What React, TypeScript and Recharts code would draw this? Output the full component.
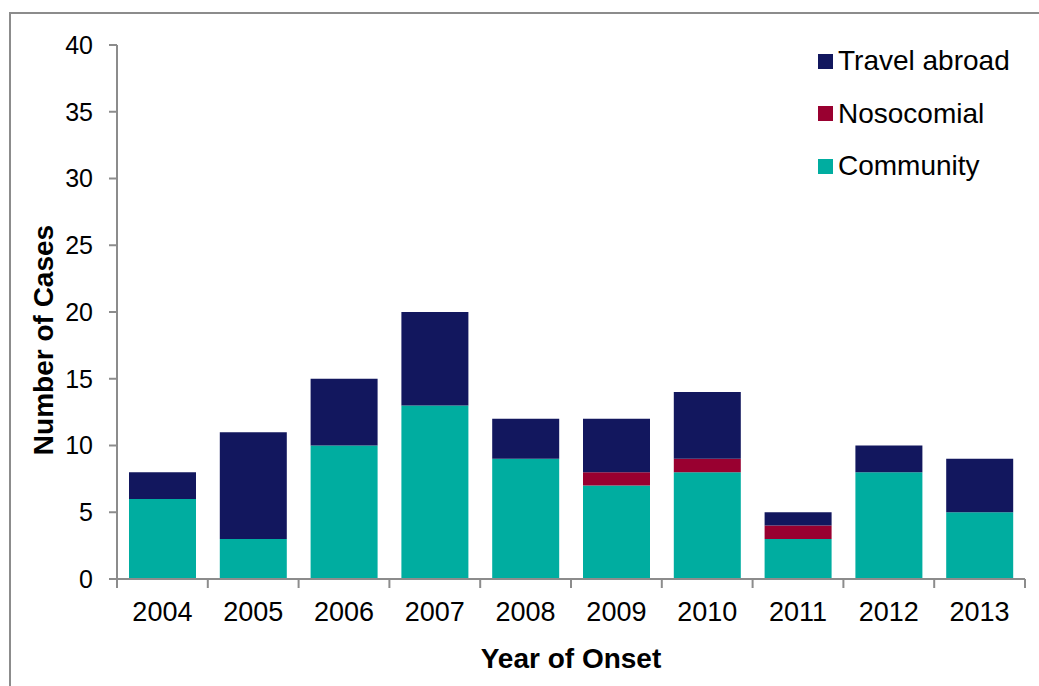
import * as React from 'react'
import {
  BarChart,
  Bar,
  XAxis,
  YAxis,
} from 'recharts'

const YEARS = ['2004', '2005', '2006', '2007', '2008', '2009', '2010', '2011', '2012', '2013']
const COMMUNITY = [6, 3, 10, 13, 9, 7, 8, 3, 8, 5]
const NOSOCOMIAL = [0, 0, 0, 0, 0, 1, 1, 1, 0, 0]
const TRAVEL_ABROAD = [2, 8, 5, 7, 3, 4, 5, 1, 2, 4]
const Y_TICKS = [0, 5, 10, 15, 20, 25, 30, 35, 40]

const COLORS = {
  community: '#00ADA0',
  nosocomial: '#990030',
  travel: '#12175E',
}

const AXIS_GREY = '#8C8C8C'
const FONT = '"Liberation Sans", Arial, sans-serif'

const data = YEARS.map((year, i) => ({
  year,
  community: COMMUNITY[i],
  nosocomial: NOSOCOMIAL[i],
  travel: TRAVEL_ABROAD[i],
}))

const legendItems = [
  { label: 'Travel abroad', color: COLORS.travel },
  { label: 'Nosocomial', color: COLORS.nosocomial },
  { label: 'Community', color: COLORS.community },
]

function LegendBox() {
  return (
    <div
      style={{
        position: 'absolute',
        left: 818,
        top: 35,
        fontFamily: FONT,
        fontSize: 28,
        color: '#000',
      }}
    >
      {legendItems.map((item) => (
        <div
          key={item.label}
          style={{ display: 'flex', alignItems: 'center', height: 52.5 }}
        >
          <span
            style={{
              width: 15,
              height: 15,
              background: item.color,
              marginRight: 5,
              display: 'inline-block',
            }}
          />
          <span>{item.label}</span>
        </div>
      ))}
    </div>
  )
}

// category tick: label at the band centre, tick marks on the band edges (Excel style)
function YearTick(props: any) {
  const { x, y, payload, index, visibleTicksCount } = props
  const half = payload.offset ?? 0
  const axisY = y - 23
  const isLast = index === visibleTicksCount - 1
  return (
    <g>
      <line x1={x - half} x2={x - half} y1={axisY} y2={axisY + 9} stroke={AXIS_GREY} strokeWidth={2} />
      {isLast && (
        <line x1={x + half} x2={x + half} y1={axisY} y2={axisY + 9} stroke={AXIS_GREY} strokeWidth={2} />
      )}
      <text
        x={x}
        y={y}
        dy='0.71em'
        textAnchor='middle'
        fill='#000'
        fontSize={27}
        fontFamily={FONT}
      >
        {payload.value}
      </text>
    </g>
  )
}

function YTitle({ viewBox }: any) {
  const cx = viewBox.x + 43
  const cy = viewBox.y + viewBox.height / 2 + 28
  return (
    <text
      x={cx}
      y={cy}
      transform={`rotate(-90 ${cx} ${cy})`}
      textAnchor='middle'
      dominantBaseline='central'
      fontFamily={FONT}
      fontWeight='bold'
      fontSize={28}
      fill='#000'
    >
      Number of Cases
    </text>
  )
}

export default function App() {
  return (
    <div style={{ position: 'absolute', left: 0, top: 0, width: 1039, height: 686, background: '#fff', overflow: 'hidden' }}>
      <div
        style={{
          position: 'absolute',
          left: 9,
          top: 12,
          width: 1060,
          height: 700,
          border: `2px solid ${AXIS_GREY}`,
        }}
      />
      <BarChart
        width={1039}
        height={686}
        data={data}
        margin={{ top: 45, right: 14, bottom: 0, left: 0 }}
        barSize={67}
        style={{ position: 'absolute', left: 0, top: 0 }}
      >
        <XAxis
          dataKey='year'
          stroke={AXIS_GREY}
          strokeWidth={2}
          tickLine={false}
          tickSize={0}
          tickMargin={23}
          tick={<YearTick />}
          interval={0}
          height={107}
          label={{
            value: 'Year of Onset',
            position: 'insideBottom',
            offset: 18,
            fill: '#000',
            fontSize: 28,
            fontWeight: 'bold',
            fontFamily: FONT,
          }}
        />
        <YAxis
          width={117}
          domain={[0, 40]}
          ticks={Y_TICKS}
          interval={0}
          tickSize={8}
          tickMargin={16}
          stroke={AXIS_GREY}
          strokeWidth={2}
          tick={{ fill: '#000', fontSize: 25, fontFamily: FONT }}
          label={<YTitle />}
        />
        <Bar dataKey='community' name='Community' stackId='a' fill={COLORS.community} isAnimationActive={false} />
        <Bar dataKey='nosocomial' name='Nosocomial' stackId='a' fill={COLORS.nosocomial} isAnimationActive={false} />
        <Bar dataKey='travel' name='Travel abroad' stackId='a' fill={COLORS.travel} isAnimationActive={false} />
      </BarChart>
      <LegendBox />
    </div>
  )
}
